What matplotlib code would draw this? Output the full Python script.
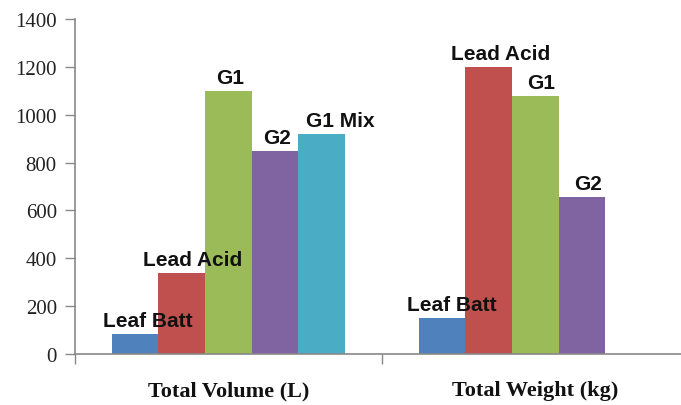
import numpy as np
import matplotlib
matplotlib.use("Agg")
import matplotlib.pyplot as plt
from matplotlib.ticker import FixedLocator, MultipleLocator

# battery pack comparison: volume and weight
categories = ["Total Volume (L)", "Total Weight (kg)"]
series = ["Leaf Batt", "Lead Acid", "G1", "G2", "G1 Mix"]
volume = [85, 340, 1100, 850, 920]
weight = [150, 1200, 1080, 655, None]   # no G1 Mix weight

colors = ["#4F81BD", "#C0504D", "#9BBB59", "#8064A2", "#4BACC6"]
# horizontal nudge of each name label (pixels), per category
label_dx = [[13, 11, 2, 2, 19], [10, 12, 6, 6, 0]]

fig = plt.figure(figsize=(6.81, 4.06), dpi=100)
ax = fig.add_axes([0.110, 0.1256, 0.9017, 0.8251])

w = 0.152
x = np.arange(len(categories))
data = [volume, weight]
for i, name in enumerate(series):
    for j in range(len(categories)):
        v = data[j][i]
        if v is None:
            continue
        xi = x[j] + (i - 2) * w
        ax.bar(xi, v, width=w, color=colors[i], zorder=2)
        ax.annotate(name, (xi, v), xytext=(label_dx[j][i], 4),
                    textcoords="offset pixels", ha="center", va="bottom",
                    fontsize=15, fontweight="bold", family="Liberation Sans",
                    color="#111111", zorder=3)

ax.set_xlim(-0.5, 1.5)
ax.set_ylim(0, 1400)
ax.yaxis.set_major_locator(MultipleLocator(200))
ax.xaxis.set_major_locator(FixedLocator([-0.5, 0.5, 1.5]))
ax.xaxis.set_minor_locator(FixedLocator(x))
ax.set_xticklabels([], minor=False)
ax.set_xticks(x, categories, minor=True)
ax.tick_params(axis="x", which="minor", length=0, pad=19)
ax.tick_params(axis="x", which="major", length=7, color="#888888", width=1)
ax.tick_params(axis="y", length=7, color="#888888", width=1, pad=6)

for lbl in ax.get_yticklabels():
    lbl.set_family("Liberation Serif")
    lbl.set_fontsize(15)
    lbl.set_color("#222222")
for lbl in ax.get_xticklabels(minor=True):
    lbl.set_family("Liberation Serif")
    lbl.set_fontsize(16)
    lbl.set_fontweight("bold")
    lbl.set_color("#111111")

for s in ["top", "right"]:
    ax.spines[s].set_visible(False)
for s in ["left", "bottom"]:
    ax.spines[s].set_color("#888888")
    ax.spines[s].set_linewidth(1.2)

fig.savefig("out.png", dpi=100)
